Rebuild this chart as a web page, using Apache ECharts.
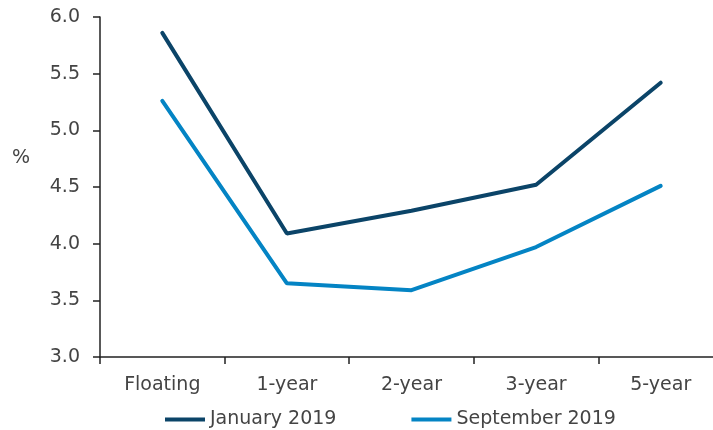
<!DOCTYPE html>
<html>
<head>
<meta charset="utf-8">
<script src="https://cdn.jsdelivr.net/npm/echarts@6/dist/echarts.min.js"></script>
<style>
  html, body { margin: 0; padding: 0; background: #fff; overflow: hidden; }
  #chart { width: 723px; height: 430px; }
</style>
</head>
<body>
<div id="chart"></div>
<script>
// categories on x axis
var tenors = ['Floating', '1-year', '2-year', '3-year', '5-year'];

// mortgage rates, %
var jan2019 = [5.86, 4.09, 4.29, 4.52, 5.42];
var sep2019 = [5.26, 3.65, 3.59, 3.97, 4.51];

var seriesNames = ['January 2019', 'September 2019'];

var FONT = 'DejaVu Sans';
var TEXT_COLOR = '#444';

var chart = echarts.init(document.getElementById('chart'));

chart.setOption({
    animation: false,
    grid: { left: 100, right: 0, top: 17, bottom: 73 },
    legend: {
        data: seriesNames,
        left: 160,
        top: 405,
        icon: 'rect',
        itemWidth: 40,
        itemHeight: 4,
        itemGap: 75,
        textStyle: { fontFamily: FONT, fontSize: 19, color: TEXT_COLOR }
    },
    graphic: [{
        type: 'text',
        left: 12,
        top: 149,
        style: { text: '%', fontFamily: FONT, fontSize: 19, fill: TEXT_COLOR }
    }],
    xAxis: {
        type: 'category',
        data: tenors,
        axisLine: { lineStyle: { color: '#222', width: 1.5 } },
        axisTick: { show: true, length: 7, lineStyle: { color: '#222', width: 1.5 } },
        axisLabel: { margin: 19, fontFamily: FONT, fontSize: 19, color: TEXT_COLOR }
    },
    yAxis: {
        type: 'value',
        min: 3,
        max: 6,
        interval: 0.5,
        axisLine: { show: true, lineStyle: { color: '#222', width: 1.5 } },
        axisTick: { show: true, length: 7, lineStyle: { color: '#222', width: 1.5 } },
        splitLine: { show: false },
        axisLabel: {
            margin: 20,
            fontFamily: FONT,
            fontSize: 19,
            color: TEXT_COLOR,
            formatter: function(v) { return v.toFixed(1); }
        }
    },
    series: [
        {
            name: seriesNames[0],
            type: 'line',
            data: jan2019,
            symbol: 'none',
            color: '#0b4468',
            lineStyle: { width: 4, cap: 'round' }
        },
        {
            name: seriesNames[1],
            type: 'line',
            data: sep2019,
            symbol: 'none',
            color: '#0484c4',
            lineStyle: { width: 4, cap: 'round' }
        }
    ]
});
</script>
</body>
</html>
